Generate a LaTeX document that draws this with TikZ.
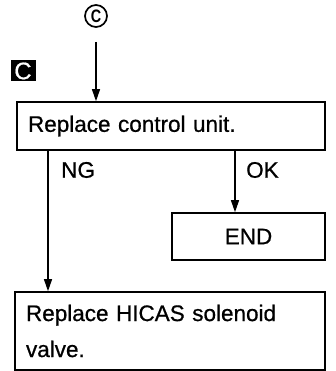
\documentclass[tikz,border=0pt]{standalone}
\usepackage{fontspec}
\setmainfont[FakeBold=0.7]{Liberation Sans}
\newfontfamily\heavysans[FakeStretch=0.8]{Liberation Sans Bold}
\usetikzlibrary{arrows.meta}
\tikzset{
  box/.style={draw, line width=1.6pt, rectangle, inner sep=0pt, font=\fontsize{22.5}{36}\selectfont},
  arr/.style={line width=1.1pt, -{Triangle[length=12pt,width=8pt]}},
  lbl/.style={font=\fontsize{22.5}{26}\selectfont, inner sep=0pt, anchor=west},
}
\begin{document}
\begin{tikzpicture}[x=1pt,y=-1pt]
\useasboundingbox (0,0) rectangle (336,371);
\node[draw, circle, line width=1.7pt, minimum size=22pt, inner sep=0pt, font=\heavysans\fontsize{18}{18}\selectfont] (circ) at (96,16) {C};
\coordinate (start) at (96,42);
\node[fill=black, text=white, minimum width=25pt, minimum height=21pt, inner sep=0pt, font=\fontsize{24}{24}\selectfont] (tag) at (23,71) {C};
\node[box, minimum width=308pt, minimum height=48pt, text width=286pt, align=left] (b1) at (171,126) {Replace control unit.};
\node[box, minimum width=153pt, minimum height=47pt, align=center] (b2) at (248.5,236.5) {END};
\node[box, minimum width=310pt, minimum height=78pt, text width=288pt, align=left] (b3) at (170,331) {Replace HICAS solenoid\\valve.};
\coordinate (ngx) at (48,0);
\coordinate (okx) at (235,0);
\draw[arr] (start) -- (b1.north -| circ);
\draw[arr] (b1.south -| ngx) -- (b3.north -| ngx);
\draw[arr] (b1.south -| okx) -- (b2.north -| okx);
\node[lbl] (ng) at (61,170) {NG};
\node[lbl] (ok) at (246,170) {OK};
\end{tikzpicture}
\end{document}
